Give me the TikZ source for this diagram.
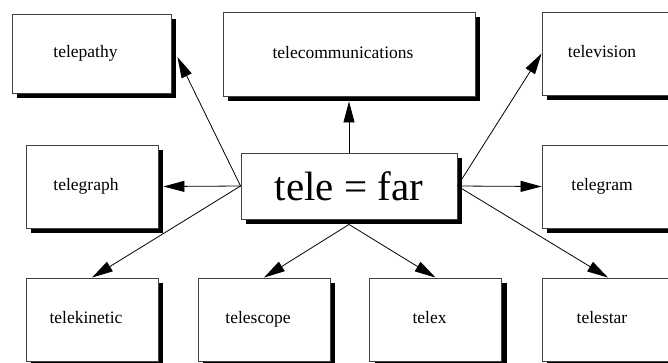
\documentclass[tikz,border=0pt]{standalone}
\usepackage{fontspec}
\setmainfont{Liberation Serif}
\usetikzlibrary{arrows.meta,shadows}
\tikzset{
  boxbase/.style = {draw=black!75, line width=0.9pt, fill=white, rectangle,
                    inner sep=0pt, align=center,
                    drop shadow={shadow xshift=5pt, shadow yshift=-5pt,
                                 fill=black, opacity=1}},
  wordbox/.style = {boxbase, minimum width=132pt, minimum height=83pt,
                    text height=12pt, text depth=4pt,
                    font=\fontsize{17.5}{21}\selectfont,
                    execute at end node=\hspace*{12pt}},
  rootbox/.style = {boxbase, minimum width=216pt, minimum height=66pt,
                    font=\fontsize{41}{48}\selectfont},
  sig/.style     = {-{Triangle[length=21pt,width=11pt]}, line width=0.8pt},
}
\begin{document}
\begin{tikzpicture}[x=1pt,y=-1pt]
\clip (0,0) rectangle (668,362);
\useasboundingbox (0,0) rectangle (668,362);
\node[rootbox] (root) at (349,186) {tele = far};
\node[wordbox,minimum width=159pt,minimum height=79pt] (pathy) at (91.5,53.5) {telepathy};
\node[wordbox,minimum width=252pt,minimum height=84pt] (comm) at (349,54) {telecommunications};
\node[wordbox] (vision) at (608,53.5) {television};
\node[wordbox] (graph) at (92,186.5) {telegraph};
\node[wordbox] (gram) at (608,186.5) {telegram};
\node[wordbox] (kinetic) at (92,319.5) {telekinetic};
\node[wordbox] (scope) at (264,319.5) {telescope};
\node[wordbox] (telex) at (435.5,319.5) {telex};
\node[wordbox] (star) at (608,319.5) {telestar};
% left side
\draw[sig] (root.west) -- ([xshift=6pt,yshift=-3.5pt]pathy.east);
\draw[sig] (root.west) -- ([xshift=5pt]graph.east);
\draw[sig] (root.west) -- (kinetic.north);
% top and bottom
\draw[sig] (root.north) -- ([yshift=-5pt]comm.south);
\draw[sig] ([yshift=-5pt]root.south) -- (scope.north);
\draw[sig] ([yshift=-5pt]root.south) -- (telex.north);
% right side
\draw[sig] (root.east) -- (vision.west);
\draw[sig] (root.east) -- (gram.west);
\draw[sig] (root.east) -- (star.north);
\end{tikzpicture}
\end{document}
